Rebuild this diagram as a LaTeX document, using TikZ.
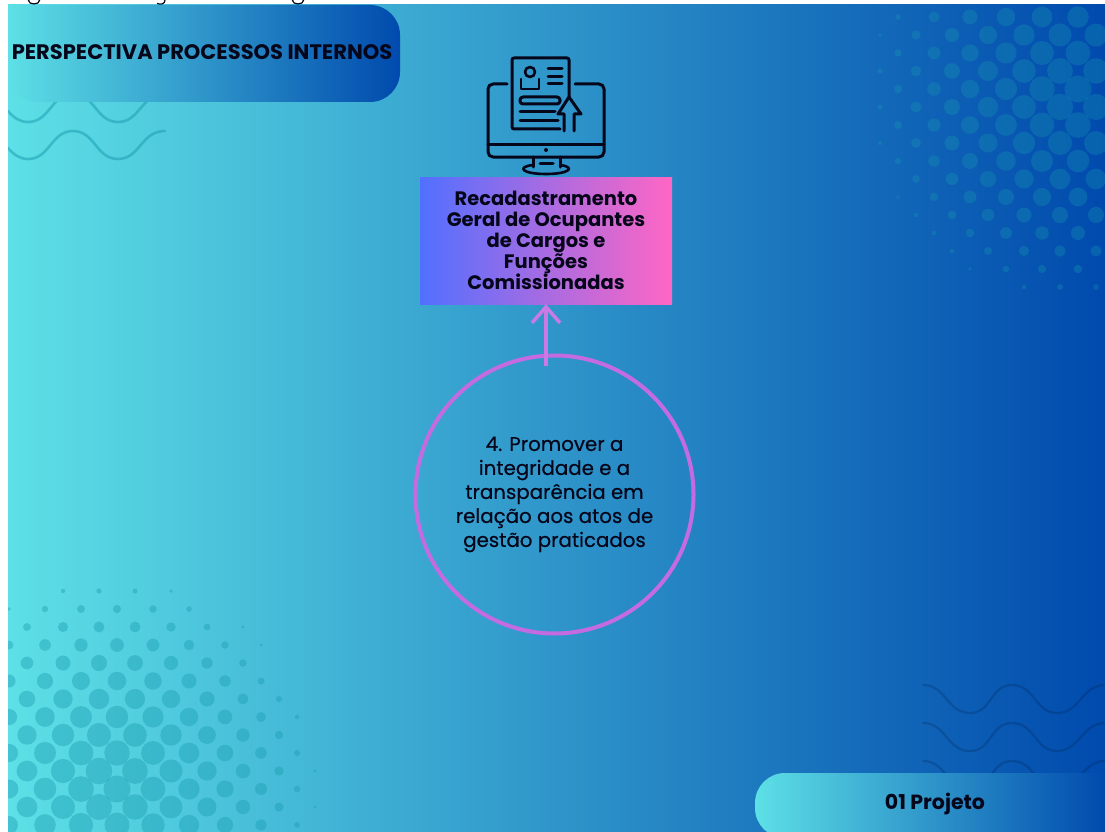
\documentclass[tikz,border=0pt]{standalone}
\usepackage{fontspec}
\usepackage{tikz}
\usetikzlibrary{arrows.meta}
\setmainfont{Poppins}
\newfontfamily\medfont[FakeBold=0.55]{Poppins}

\definecolor{bgleft}{HTML}{5DE0E6}
\definecolor{bgright}{HTML}{004AAD}
\definecolor{boxleft}{HTML}{5170FF}
\definecolor{boxright}{HTML}{FF66C4}
\definecolor{ring}{HTML}{C56BE2}
\definecolor{ink}{HTML}{06061A}
\definecolor{dotcol}{RGB}{24,155,175}

\tikzset{
  grad/.style={left color=bgleft, right color=bgright},
  wavel/.style={draw=dotcol, opacity=.5, line width=2.6pt, line cap=round},
  waver/.style={draw=black!60!bgright, opacity=.22, line width=2.2pt, line cap=round},
  spot/.style={fill=dotcol, opacity=.4},
  spotr/.style={fill=dotcol, opacity=.3},
  icon/.style={draw=ink, line width=3pt, line cap=round, line join=round}
}

\begin{document}
\begin{tikzpicture}[x=1pt,y=-1pt]

        \useasboundingbox (0,0) rectangle (1105,832);

        \fill[white] (0,0) rectangle (1105,832);
        \shade[grad] (8,5) rectangle (1105,832);

        \draw[ink, line width=1.2pt] (34,0.5) ellipse[x radius=5.5, y radius=3.5];
        \draw[ink, line width=1.2pt] (165,0) .. controls (165,4) and (161,5) .. (157,3.5);
        \draw[ink, line width=1.2pt] (298,0.5) ellipse[x radius=5.5, y radius=3.5];

        \begin{scope}
          \clip (8,5) rectangle (1105,832);

          \foreach \row in {0,...,13} {
            \foreach \col in {0,...,8} {
              \pgfmathsetmacro{\px}{9+36*\col+18*(1-mod(\row,2))}
              \pgfmathsetmacro{\py}{591+18*\row}
              \pgfmathsetmacro{\rad}{13.5*(1-pow(veclen(\px-110,\py-785)/225,1.5))}
              \ifdim\rad pt>1.5pt
                \fill[spot] (\px,\py) circle[radius=\rad];
              \fi
            }
          }

          \foreach \row in {0,...,15} {
            \foreach \col in {0,...,6} {
              \pgfmathsetmacro{\px}{1078+18*mod(\row,2)-36*\col}
              \pgfmathsetmacro{\py}{17+18*\row}
              \pgfmathsetmacro{\rad}{13.5*(1-pow(veclen(\px-1075,\py-95)/225,1.5))}
              \ifdim\rad pt>1.5pt
                \fill[spotr] (\px,\py) circle[radius=\rad];
              \fi
            }
          }

          \foreach \dy in {0,37} {
            \draw[wavel] (8,111+\dy) .. controls (14,118+\dy) and (20,122+\dy) .. (28,122+\dy)
              .. controls (50,122+\dy) and (51,94+\dy) .. (73,94+\dy)
              .. controls (95,94+\dy) and (96,122+\dy) .. (118,122+\dy)
              .. controls (140,122+\dy) and (141,94+\dy) .. (165,94+\dy);
          }

          \foreach \dy in {0,38,76} {
            \draw[waver] (923,685+\dy) .. controls (946,685+\dy) and (947,713+\dy) .. (970,713+\dy)
              .. controls (992,713+\dy) and (990,685+\dy) .. (1012,685+\dy)
              .. controls (1035,685+\dy) and (1035,713+\dy) .. (1057,713+\dy)
              .. controls (1080,713+\dy) and (1082,685+\dy) .. (1105,685+\dy);
          }
        \end{scope}

        \shade[grad] (8,5) [rounded corners=30pt] -- (400,5) -- (400,102) -- (8,102) [sharp corners] -- cycle;
        \shade[grad] (1105,773) [rounded corners=30pt] -- (755,773) -- (755,838) [sharp corners] -- (1105,838) -- cycle;

        \begin{scope}[every node/.style={text=ink, font=\bfseries\fontsize{19.5}{21}\selectfont}]
          \node[font=\bfseries\fontsize{21}{24}\selectfont] (head) at (202,52) {PERSPECTIVA PROCESSOS INTERNOS};
          \node[font=\bfseries\fontsize{20.5}{24}\selectfont] (foot) at (935,804) {01 Projeto};
          \node[left color=boxleft, right color=boxright, minimum width=252pt, minimum height=127pt,
            inner sep=0pt, align=center] (box) at (546,240.5)
            {Recadastramento\\Geral de Ocupantes\\de Cargos e\\Funções\\Comissionadas};
        \end{scope}

        \node[circle, draw=ring, line width=4pt, minimum size=278pt, inner sep=0pt, text=ink,
          align=center, font=\medfont\fontsize{19.8}{24}\selectfont] (goal) at (554.5,494.5)
          {4. Promover a\\integridade e a\\transparência em\\relação aos atos de\\gestão praticados};

        \draw[ring!90!white, line width=3.5pt, -{Straight Barb[length=16pt,width=28pt]}]
          ([yshift=-12pt]goal.north -| box.south) -- (box.south);

        \draw[icon, rounded corners=5pt] (507,84) -- (488,84) -- (488,157) -- (604,157) -- (604,84) -- (575,84);
        \draw[icon] (488,144) -- (604,144);
        \fill[ink] (546,150) circle[radius=2];
        \draw[icon] (533,157) -- (533,167);
        \draw[icon] (560,157) -- (560,167);
        \draw[icon] (540,163) -- (553,163);
        \draw[icon, line width=2.6pt] (533,165) .. controls (516,167) and (522,174) .. (546,174)
          .. controls (570,174) and (576,167) .. (560,165);

        \draw[icon, rounded corners=2pt] (560,129) -- (512,129) -- (512,58) -- (569,58) -- (569,97);
        \draw[icon, line width=2.6pt] (530,72) circle[radius=5];
        \draw[icon, line width=2.6pt] (521,79) -- (521,89) -- (539,89) -- (539,79);
        \draw[icon] (548,69) -- (562,69);
        \draw[icon] (548,77) -- (562,77);
        \draw[icon] (548,84) -- (562,84);
        \draw[icon, rounded corners=3pt] (540,97) -- (560,97) -- (560,104) -- (520,104) -- (520,97) -- cycle;
        \draw[icon] (520,112) -- (555,112);
        \draw[icon] (520,121) -- (558,121);
        \draw[icon] (564,131) -- (564,114) -- (558,114) -- (569,97) -- (581,114) -- (574,114) -- (574,131);

\end{tikzpicture}
\end{document}
